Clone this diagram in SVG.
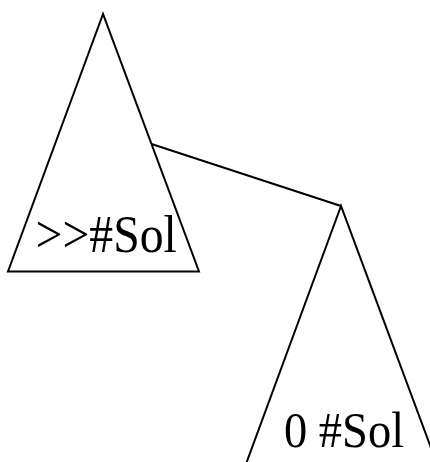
<svg xmlns="http://www.w3.org/2000/svg" width="430" height="462" viewBox="0 0 430 462">
<style>
.tri{fill:none;stroke:#000;stroke-width:2;stroke-linejoin:miter}
.edge{fill:none;stroke:#000;stroke-width:2}
.lbl{font-family:"Liberation Serif","Times New Roman",serif;fill:#000}
</style>
<rect width="430" height="462" fill="#fff"/>
<g id="connectors">
<line class="edge" x1="151.5" y1="144" x2="341" y2="206"/>
</g>
<g id="node1">
<polygon class="tri" points="103,14 8,271.5 199,271.5"/>
<text class="lbl" font-size="53" transform="translate(35.5,252) scale(0.9,1)">&gt;&gt;#Sol</text>
</g>
<g id="node2">
<polygon class="tri" points="341,206 246,464 437,464"/>
<text class="lbl" font-size="50" transform="translate(284,447) scale(0.93,1)">0 #Sol</text>
</g>
</svg>
